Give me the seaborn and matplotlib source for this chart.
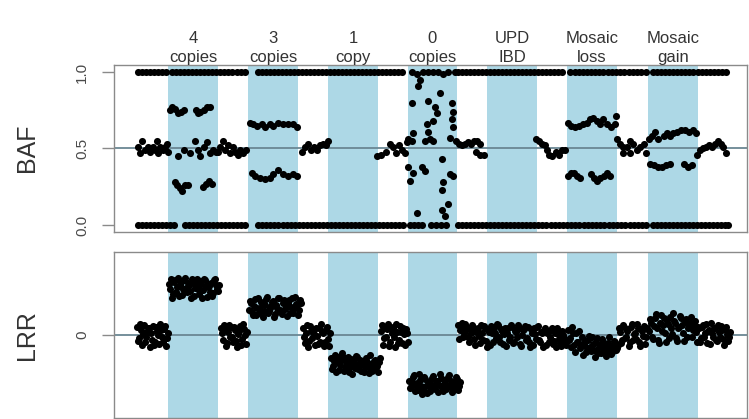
import numpy as np
import pandas as pd
import matplotlib
matplotlib.use("Agg")
import matplotlib.pyplot as plt
import matplotlib.transforms as mtransforms
import seaborn as sns

# ---------------- aberration regions (genomic position units) ----------------
REGION_LABELS = ["4\ncopies", "3\ncopies", "1\ncopy", "0\ncopies",
                 "UPD\nIBD", "Mosaic\nloss", "Mosaic\ngain"]
REGION_START = [168, 248, 328, 408, 487, 567, 648]
REGION_END = [218, 298, 378, 457, 537, 617, 698]
POS_RANGE = (114, 747)

BAF_TICKS = [0.0, 0.5, 1.0]
BAF_TICK_LABELS = ["0.0", "0.5", "1.0"]
LRR_TICKS = [0]
LRR_TICK_LABELS = ["0"]

# ---------------- B allele frequency ----------------
# homozygous BB calls (BAF = 1)
HOM_BB_POS = [138, 142, 146, 150, 154, 158, 162, 166,
              172, 176, 180, 184, 188, 192, 196, 200, 204, 208, 212, 216, 220, 224, 228, 232,
              237, 241, 245,
              258, 262, 266, 270, 274, 278, 282, 286, 290, 294, 298, 302, 306, 310, 314, 318,
              322, 326, 330, 334, 338, 342, 346, 350, 354, 358, 362, 366, 370, 374, 378, 382,
              386, 390, 394, 398, 402,
              458, 462, 466, 470, 474, 478, 482, 486, 490, 494, 498, 502, 506, 510, 514, 518,
              522, 526, 530, 534, 538, 542, 546, 550, 554, 558, 562,
              570, 575, 579, 583, 587, 591, 595, 599, 603, 608, 612, 616, 620, 624, 629, 633,
              637, 641, 646,
              653, 657, 661, 665, 669, 673, 677, 681, 685, 689, 693,
              698, 702, 706, 710, 714, 718, 722, 726]
# homozygous AA calls (BAF = 0)
HOM_AA_POS = [138, 142, 146, 150, 154, 158, 162, 166, 170, 174,
              185, 189, 193, 197, 201, 205, 209, 213,
              217, 221, 225, 229, 233, 237, 241, 245,
              258, 262, 266, 270, 274, 278,
              283, 287, 291, 295, 299, 303, 307, 311, 315, 319, 323, 327, 331, 335, 339, 343,
              347, 351, 355, 359, 363, 367, 371, 375, 379, 383, 387, 391, 395, 399, 403,
              458, 462, 466, 470, 474, 478, 482, 486, 490, 494, 498, 502, 506, 510, 514, 518,
              522, 526, 530, 534, 538, 542, 546, 551, 555, 559, 563,
              567, 571, 575, 579, 584, 588, 592, 596, 600, 604, 609, 613, 617, 621, 625, 630,
              634, 638, 642, 646,
              653, 657, 661, 665, 669, 673, 677, 681, 685, 689, 693, 697, 701, 705, 709, 713,
              717, 721, 725, 728]

# heterozygous calls, by segment
HET_N1_POS = [138, 140, 142, 145, 148, 150, 153, 155, 157, 158, 160, 163, 165, 167, 168]
HET_N1_BAF = [0.51, 0.47, 0.55, 0.49, 0.51, 0.48, 0.51, 0.49, 0.55, 0.47, 0.51, 0.49, 0.51, 0.53, 0.48]

HET_G4_POS = [170, 172, 175, 178, 181, 184, 196, 198, 200, 204, 207, 210,
              178, 184, 190, 195, 198, 200, 204, 207, 210, 213, 216,
              175, 177, 180, 182, 185, 188, 203, 206, 209, 212]
HET_G4_BAF = [0.75, 0.77, 0.76, 0.73, 0.74, 0.75, 0.75, 0.73, 0.74, 0.75, 0.77, 0.77,
              0.45, 0.49, 0.47, 0.55, 0.49, 0.45, 0.51, 0.54, 0.47, 0.49, 0.48,
              0.28, 0.26, 0.24, 0.22, 0.26, 0.26, 0.25, 0.27, 0.29, 0.27]

HET_N2_POS = [218, 220, 223, 225, 228, 230, 233, 235, 238, 240, 243, 246]
HET_N2_BAF = [0.48, 0.51, 0.55, 0.49, 0.52, 0.47, 0.51, 0.48, 0.46, 0.49, 0.47, 0.49]

HET_G3_POS = [250, 253, 257, 262, 265, 270, 273, 278, 283, 288, 293, 297,
              252, 255, 260, 265, 270, 273, 278, 283, 288, 293, 297]
HET_G3_BAF = [0.67, 0.66, 0.65, 0.66, 0.64, 0.66, 0.65, 0.67, 0.66, 0.66, 0.66, 0.64,
              0.34, 0.32, 0.31, 0.30, 0.31, 0.33, 0.36, 0.33, 0.32, 0.33, 0.32]

HET_N3_POS = [302, 305, 308, 311, 314, 317, 320, 323, 326, 328]
HET_N3_BAF = [0.48, 0.51, 0.53, 0.49, 0.51, 0.49, 0.52, 0.53, 0.52, 0.55]

HET_N4_POS = [377, 381, 386, 390, 393, 396, 399, 402, 405, 407]
HET_N4_BAF = [0.45, 0.46, 0.48, 0.53, 0.51, 0.47, 0.52, 0.49, 0.47, 0.54]

# no-copy region: genotype calls are noise
NULL_POS = [412, 417, 423, 428, 433, 438, 443, 448, 455, 420, 418, 440, 412, 428, 452,
            435, 437, 453, 433, 452, 427, 453, 428, 413, 408, 425, 433, 450, 412, 430,
            442, 408, 422, 413, 425, 453, 410, 443, 442, 450, 448, 442, 445, 417,
            410, 414, 418, 422, 431, 436, 441, 446]
NULL_BAF = [1.00, 0.99, 1.00, 1.00, 1.00, 1.00, 0.99, 1.00, 1.00, 0.95, 0.91, 0.86, 0.80, 0.81, 0.80,
            0.77, 0.73, 0.74, 0.68, 0.69, 0.66, 0.64, 0.61, 0.60, 0.56, 0.55, 0.55, 0.57, 0.55, 0.56,
            0.43, 0.38, 0.38, 0.34, 0.35, 0.32, 0.29, 0.28, 0.23, 0.33, 0.14, 0.10, 0.06, 0.08,
            0.00, 0.00, 0.00, 0.00, 0.00, 0.00, 0.00, 0.00]

HET_N5_POS = [456, 459, 462, 465, 468, 471, 474, 477, 480, 476, 480, 484]
HET_N5_BAF = [0.55, 0.53, 0.52, 0.53, 0.54, 0.53, 0.55, 0.55, 0.53, 0.48, 0.46, 0.46]

HET_N6_POS = [536, 539, 542, 545, 547, 549, 552, 556, 559, 562, 565]
HET_N6_BAF = [0.56, 0.55, 0.53, 0.52, 0.49, 0.46, 0.45, 0.48, 0.46, 0.49, 0.49]

HET_ML_POS = [568, 571, 575, 579, 583, 587, 590, 593, 597, 600, 603, 607, 611, 616, 615,
              568, 571, 574, 577, 580, 591, 594, 597, 600, 604, 607, 610]
HET_ML_BAF = [0.67, 0.65, 0.64, 0.65, 0.66, 0.67, 0.69, 0.70, 0.68, 0.66, 0.69, 0.66, 0.64, 0.71, 0.66,
              0.32, 0.34, 0.34, 0.32, 0.31, 0.33, 0.31, 0.29, 0.31, 0.32, 0.34, 0.32]

HET_N7_POS = [617, 620, 623, 623, 627, 630, 630, 633, 637, 640, 644, 646]
HET_N7_BAF = [0.56, 0.53, 0.51, 0.47, 0.51, 0.55, 0.47, 0.53, 0.49, 0.51, 0.53, 0.47]

HET_MG_POS = [649, 652, 655, 658, 664, 667, 670, 673, 677, 681, 685, 689, 693, 696,
              650, 654, 658, 662, 666, 670, 684, 688, 692]
HET_MG_BAF = [0.56, 0.58, 0.61, 0.56, 0.58, 0.60, 0.58, 0.60, 0.61, 0.62, 0.62, 0.61, 0.62, 0.60,
              0.40, 0.39, 0.38, 0.38, 0.39, 0.40, 0.40, 0.38, 0.39]

HET_N8_POS = [697, 700, 703, 706, 709, 712, 715, 718, 721, 723, 726]
HET_N8_BAF = [0.46, 0.49, 0.50, 0.51, 0.52, 0.51, 0.53, 0.55, 0.53, 0.51, 0.47]

# ---------------- log R ratio, by segment ----------------
LRR_N1_POS = [137, 139, 141, 142, 144, 146, 148, 150, 151, 153, 155, 157, 159, 160, 162, 164, 166, 168,
              138, 140, 143, 145, 147, 149, 152, 154, 156, 158, 161, 163, 165, 167]
LRR_N1_VAL = [0.10, -0.04, 0.06, -0.12, 0.12, -0.02, 0.08, -0.14, 0.03, 0.11, -0.08, 0.05,
              -0.11, 0.13, -0.03, 0.07, -0.13, 0.02,
              -0.07, 0.13, 0.01, -0.09, 0.04, 0.09, -0.06, -0.12, 0.10, 0.00, 0.06, -0.08, 0.11, -0.04]

LRR_G4_POS = [169, 171, 173, 175, 177, 179, 181, 183, 185, 187, 189, 191, 193, 195, 197, 199,
              201, 203, 205, 207, 209, 211, 213, 215, 217, 219,
              170, 172, 174, 176, 178, 180, 182, 184, 186, 188, 190, 192, 194, 196, 198, 200,
              202, 204, 206, 208, 210, 212, 214, 216, 218]
LRR_G4_VAL = [0.62, 0.68, 0.50, 0.66, 0.58, 0.47, 0.64, 0.55, 0.69, 0.52, 0.60, 0.44, 0.63,
              0.57, 0.67, 0.49, 0.61, 0.54, 0.66, 0.46, 0.59, 0.63, 0.51, 0.68, 0.56, 0.60,
              0.55, 0.45, 0.64, 0.52, 0.69, 0.60, 0.48, 0.66, 0.57, 0.63, 0.53, 0.68, 0.47,
              0.62, 0.55, 0.65, 0.45, 0.67, 0.58, 0.62, 0.52, 0.47, 0.66, 0.60, 0.53]

LRR_N2_POS = [221, 223, 224, 226, 228, 230, 231, 233, 235, 237, 238, 240, 242, 244, 246,
              222, 225, 227, 229, 232, 234, 236, 239, 241, 243, 245, 247]
LRR_N2_VAL = [0.09, -0.06, 0.12, -0.13, 0.04, -0.02, 0.10, -0.09, 0.06, -0.14, 0.01, 0.11,
              -0.05, 0.07, -0.11,
              0.02, 0.07, -0.10, 0.12, -0.03, 0.10, -0.07, 0.05, -0.12, 0.13, 0.00, 0.04]

LRR_G3_POS = [249, 251, 253, 255, 257, 259, 261, 263, 265, 267, 269, 271, 273, 275, 277, 279,
              281, 283, 285, 287, 289, 291, 293, 295, 297, 299, 301,
              250, 252, 254, 256, 258, 260, 262, 264, 266, 268, 270, 272, 274, 276, 278, 280,
              282, 284, 286, 288, 290, 292, 294, 296, 298, 300]
LRR_G3_VAL = [0.30, 0.38, 0.24, 0.43, 0.33, 0.27, 0.40, 0.22, 0.36, 0.46, 0.29, 0.35, 0.41,
              0.25, 0.33, 0.44, 0.28, 0.38, 0.31, 0.23, 0.42, 0.34, 0.27, 0.46, 0.36, 0.30, 0.39,
              0.41, 0.28, 0.35, 0.24, 0.45, 0.31, 0.37, 0.29, 0.43, 0.26, 0.33, 0.40, 0.22,
              0.36, 0.45, 0.30, 0.25, 0.42, 0.34, 0.39, 0.27, 0.44, 0.32, 0.37, 0.24, 0.42]

LRR_N3_POS = [303, 305, 306, 308, 310, 312, 313, 315, 317, 319, 320, 322, 324, 326, 328, 330,
              304, 307, 309, 311, 314, 316, 318, 321, 323, 325, 327, 329]
LRR_N3_VAL = [0.08, -0.10, 0.02, -0.15, 0.11, -0.04, 0.06, -0.12, -0.01, 0.09, -0.08, 0.04,
              -0.13, 0.07, -0.05, 0.03,
              -0.03, 0.12, -0.07, 0.05, 0.01, 0.09, -0.11, 0.13, 0.02, -0.09, 0.10, -0.13]

LRR_L1_POS = [331, 333, 335, 337, 339, 341, 343, 345, 347, 349, 351, 353, 355, 357, 359, 361,
              363, 365, 367, 369, 371, 373, 375, 377, 379,
              332, 334, 336, 338, 340, 342, 344, 346, 348, 350, 352, 354, 356, 358, 360, 362,
              364, 366, 368, 370, 372, 374, 376, 378, 380]
LRR_L1_VAL = [-0.28, -0.37, -0.24, -0.33, -0.42, -0.30, -0.26, -0.39, -0.35, -0.45, -0.29,
              -0.34, -0.40, -0.27, -0.36, -0.43, -0.31, -0.38, -0.33, -0.46, -0.35, -0.40,
              -0.30, -0.37, -0.32,
              -0.41, -0.31, -0.45, -0.27, -0.36, -0.22, -0.43, -0.33, -0.26, -0.38, -0.47,
              -0.32, -0.25, -0.41, -0.30, -0.35, -0.44, -0.28, -0.39, -0.24, -0.43, -0.31,
              -0.37, -0.45, -0.28]

LRR_N4_POS = [381, 383, 385, 386, 388, 390, 392, 393, 395, 397, 399, 400, 402, 404, 406, 408,
              382, 384, 387, 389, 391, 394, 396, 398, 401, 403, 405, 407]
LRR_N4_VAL = [0.05, -0.12, 0.10, -0.03, 0.13, -0.09, 0.02, 0.08, -0.14, 0.04, -0.06, 0.11,
              -0.10, 0.01, 0.07, -0.08,
              0.12, -0.04, 0.07, -0.13, 0.10, -0.02, 0.13, -0.10, 0.04, 0.09, -0.12, 0.03]

LRR_L0_POS = [409, 411, 413, 415, 417, 419, 421, 423, 425, 427, 429, 431, 433, 435, 437, 439,
              441, 443, 445, 447, 449, 451, 453, 455, 457, 459,
              410, 412, 414, 416, 418, 420, 422, 424, 426, 428, 430, 432, 434, 436, 438, 440,
              442, 444, 446, 448, 450, 452, 454, 456, 458, 460]
LRR_L0_VAL = [-0.55, -0.63, -0.50, -0.68, -0.58, -0.47, -0.61, -0.66, -0.53, -0.70, -0.57,
              -0.62, -0.49, -0.65, -0.55, -0.60, -0.52, -0.68, -0.58, -0.63, -0.48, -0.56,
              -0.66, -0.60, -0.53, -0.62,
              -0.64, -0.57, -0.48, -0.60, -0.66, -0.54, -0.71, -0.50, -0.62, -0.59, -0.67,
              -0.52, -0.60, -0.56, -0.69, -0.47, -0.63, -0.54, -0.65, -0.51, -0.61, -0.69,
              -0.58, -0.50, -0.66, -0.57]

LRR_N5_POS = [458, 460, 462, 464, 466, 468, 470, 472, 474, 476, 478, 480, 482, 484, 486, 488,
              490, 492, 494, 496, 498, 500, 502, 504, 506, 508, 510, 512, 514, 516, 518, 520,
              522, 524, 526, 528, 530, 532, 534, 536, 538, 540, 542, 544, 546, 548, 550, 552,
              554, 556, 558, 560, 562, 564, 566,
              459, 461, 463, 465, 467, 469, 471, 473, 475, 477, 479, 481, 483, 485, 487, 489,
              491, 493, 495, 497, 499, 501, 503, 505, 507, 509, 511, 513, 515, 517, 519, 521,
              523, 525, 527, 529, 531, 533, 535, 537, 539, 541, 543, 545, 547, 549, 551, 553,
              555, 557, 559, 561, 563, 565]
LRR_N5_VAL = [0.12, 0.06, 0.14, 0.03, 0.10, -0.02, 0.08, 0.12, -0.05, 0.04, 0.09, -0.10,
              0.02, 0.11, -0.07, 0.06, -0.12, 0.03, 0.09, -0.04, 0.12, -0.09, 0.05, 0.01,
              -0.13, 0.08, -0.03, 0.10, -0.08, 0.04, 0.12, -0.11, 0.00, 0.07, -0.06, 0.10,
              -0.14, 0.03, 0.08, -0.05, 0.11, -0.09, 0.02, 0.06, -0.12, 0.04, -0.02, 0.09,
              -0.07, -0.15, 0.01, -0.10, 0.05, -0.04, -0.12,
              -0.05, 0.10, -0.02, 0.13, 0.07, -0.08, 0.03, 0.10, -0.12, 0.06, -0.01, 0.12,
              -0.06, 0.08, -0.14, 0.04, 0.11, -0.09, 0.02, 0.13, -0.03, 0.07, -0.11, 0.09,
              0.03, -0.06, 0.12, -0.10, 0.05, -0.02, 0.08, -0.13, 0.06, 0.11, -0.04, -0.09,
              0.07, -0.12, 0.01, 0.10, -0.06, 0.04, -0.14, 0.09, 0.02, -0.08, 0.06, -0.11,
              0.03, 0.08, -0.05, -0.13, 0.00, -0.08]

LRR_ML_POS = [568, 570, 572, 574, 576, 578, 580, 582, 584, 586, 588, 590, 592, 594, 596, 598,
              600, 602, 604, 606, 608, 610, 612, 614, 616,
              569, 571, 573, 575, 577, 579, 581, 583, 585, 587, 589, 591, 593, 595, 597, 599,
              601, 603, 605, 607, 609, 611, 613, 615, 617]
LRR_ML_VAL = [0.06, -0.04, 0.10, -0.12, 0.02, -0.08, -0.16, -0.02, -0.11, -0.20, -0.06,
              -0.14, -0.03, -0.18, -0.09, -0.22, -0.12, -0.05, -0.17, -0.25, -0.10, -0.15,
              -0.21, -0.07, -0.18,
              -0.06, -0.14, 0.03, -0.20, -0.09, 0.05, -0.13, -0.24, -0.07, -0.16, -0.01,
              -0.19, -0.11, -0.26, -0.04, -0.14, -0.22, -0.08, -0.12, -0.19, -0.03, -0.23,
              -0.13, -0.09, -0.16]

LRR_N7_POS = [618, 620, 622, 624, 626, 628, 630, 632, 634, 636, 638, 640, 642, 644, 646,
              619, 621, 623, 625, 627, 629, 631, 633, 635, 637, 639, 641, 643, 645, 647]
LRR_N7_VAL = [-0.12, 0.04, -0.06, 0.10, -0.02, 0.07, -0.09, 0.13, 0.01, -0.05, 0.09, -0.13,
              0.05, 0.11, -0.03,
              0.08, -0.10, 0.12, -0.04, 0.05, -0.13, 0.10, -0.06, 0.03, 0.13, -0.09, 0.07,
              -0.01, -0.11, 0.09]

LRR_MG_POS = [649, 651, 653, 655, 657, 659, 661, 663, 665, 667, 669, 671, 673, 675, 677, 679,
              681, 683, 685, 687, 689, 691, 693, 695, 697,
              650, 652, 654, 656, 658, 660, 662, 664, 666, 668, 670, 672, 674, 676, 678, 680,
              682, 684, 686, 688, 690, 692, 694, 696, 698]
LRR_MG_VAL = [0.05, 0.15, -0.05, 0.20, 0.09, -0.10, 0.24, 0.12, 0.02, 0.18, -0.04, 0.08,
              0.26, 0.14, -0.07, 0.10, 0.21, 0.03, 0.16, -0.02, 0.11, 0.22, 0.06, 0.17, -0.08,
              0.19, -0.02, 0.11, 0.25, -0.06, 0.14, 0.05, 0.20, -0.09, 0.13, 0.22, 0.01, 0.17,
              -0.04, 0.09, 0.23, 0.12, -0.07, 0.19, 0.08, 0.15, -0.03, 0.12, 0.04, 0.10]

LRR_N8_POS = [699, 701, 703, 705, 707, 709, 711, 713, 715, 717, 719, 721, 723, 725, 727, 729,
              700, 702, 704, 706, 708, 710, 712, 714, 716, 718, 720, 722, 724, 726, 728, 730]
LRR_N8_VAL = [0.08, -0.04, 0.12, 0.02, -0.10, 0.06, 0.14, -0.02, 0.09, -0.07, 0.04, 0.11,
              -0.05, 0.07, 0.01, -0.03,
              -0.09, 0.10, -0.02, 0.13, 0.05, -0.11, 0.03, 0.08, -0.06, 0.12, -0.03, 0.06,
              -0.12, 0.10, -0.07, 0.04]

# ---------------- tables ----------------
het_pos = (HET_N1_POS + HET_G4_POS + HET_N2_POS + HET_G3_POS + HET_N3_POS + HET_N4_POS +
           NULL_POS + HET_N5_POS + HET_N6_POS + HET_ML_POS + HET_N7_POS + HET_MG_POS + HET_N8_POS)
het_baf = (HET_N1_BAF + HET_G4_BAF + HET_N2_BAF + HET_G3_BAF + HET_N3_BAF + HET_N4_BAF +
           NULL_BAF + HET_N5_BAF + HET_N6_BAF + HET_ML_BAF + HET_N7_BAF + HET_MG_BAF + HET_N8_BAF)
baf_df = pd.DataFrame({
    "pos": HOM_BB_POS + HOM_AA_POS + het_pos,
    "baf": [1.0] * len(HOM_BB_POS) + [0.0] * len(HOM_AA_POS) + het_baf,
})

lrr_df = pd.DataFrame({
    "pos": (LRR_N1_POS + LRR_G4_POS + LRR_N2_POS + LRR_G3_POS + LRR_N3_POS + LRR_L1_POS +
            LRR_N4_POS + LRR_L0_POS + LRR_N5_POS + LRR_ML_POS + LRR_N7_POS + LRR_MG_POS +
            LRR_N8_POS),
    "lrr": (LRR_N1_VAL + LRR_G4_VAL + LRR_N2_VAL + LRR_G3_VAL + LRR_N3_VAL + LRR_L1_VAL +
            LRR_N4_VAL + LRR_L0_VAL + LRR_N5_VAL + LRR_ML_VAL + LRR_N7_VAL + LRR_MG_VAL +
            LRR_N8_VAL),
})

# ---------------- style ----------------
sns.set_style("white")
plt.rcParams["font.family"] = ["Liberation Sans", "DejaVu Sans"]

BAND_COLOR = "#add8e6"
REF_COLOR = "#6a8793"
FRAME_COLOR = "#8a8a8a"
TEXT_COLOR = "#333333"
DOT_SIZE = 26

W, H = 749, 419
fig = plt.figure(figsize=(W / 100, H / 100), dpi=100)
fig.patch.set_facecolor("white")


def px_axes(left, top, right, bottom):
    return fig.add_axes([left / W, 1 - bottom / H, (right - left) / W, (bottom - top) / H])


ax_baf = px_axes(114, 65, 747, 232)
ax_lrr = px_axes(114, 252, 747, 418)


def style_panel(ax, ref_y, ylim, ticks, ticklabels, name, name_y):
    for s, e in zip(REGION_START, REGION_END):
        ax.axvspan(s, e, color=BAND_COLOR, lw=0, zorder=0)
    ax.axhline(ref_y, color=REF_COLOR, lw=1.3, zorder=1)
    ax.set_xlim(*POS_RANGE)
    ax.set_ylim(*ylim)
    ax.set_xticks([])
    ax.set_yticks(ticks)
    ax.set_yticklabels(ticklabels, rotation=90, va="center", fontsize=11, color="#4a4a4a")
    ax.tick_params(axis="y", length=9, width=1, color=FRAME_COLOR, pad=9, left=True)
    ax.set_xlabel("")
    ax.set_ylabel("")
    for sp in ax.spines.values():
        sp.set_visible(True)
        sp.set_color(FRAME_COLOR)
        sp.set_linewidth(1.0)
    fig.text(27 / W, 1 - name_y / H, name, rotation=90, ha="center", va="center",
             fontsize=18, color=TEXT_COLOR)


sns.scatterplot(data=baf_df, x="pos", y="baf", ax=ax_baf, color="black", s=DOT_SIZE,
                linewidth=0, zorder=3, legend=False)
sns.scatterplot(data=lrr_df, x="pos", y="lrr", ax=ax_lrr, color="black", s=DOT_SIZE,
                linewidth=0, zorder=3, legend=False)

style_panel(ax_baf, 0.5, (-0.046, 1.046), BAF_TICKS, BAF_TICK_LABELS, "BAF", 148)
style_panel(ax_lrr, 0.0, (-1.0, 1.0), LRR_TICKS, LRR_TICK_LABELS, "LRR", 335)

# region names above the top panel
trans = mtransforms.blended_transform_factory(ax_baf.transData, ax_baf.transAxes)
for s, e, lab in zip(REGION_START, REGION_END, REGION_LABELS):
    ax_baf.text((s + e) / 2, 1.0, lab, transform=trans, ha="center", va="bottom",
                fontsize=12, color=TEXT_COLOR, linespacing=1.35)

fig.savefig("out.png", dpi=100, facecolor="white")
